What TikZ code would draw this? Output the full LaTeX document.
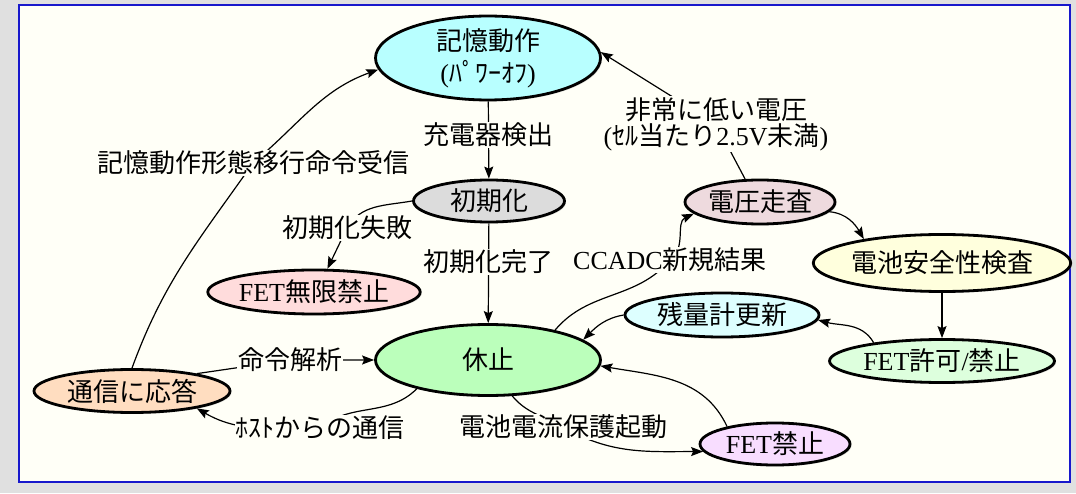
\documentclass[tikz,border=0pt]{standalone}
\usepackage{fontspec}
\setmainfont{Liberation Serif}
\newfontfamily\jp{Noto Sans CJK JP}
\usetikzlibrary{shapes.geometric,arrows.meta,shadows}
\definecolor{outerbg}{RGB}{224,224,224}
\definecolor{innerbg}{RGB}{255,255,247}
\definecolor{framecol}{RGB}{24,24,204}
\definecolor{cmem}{RGB}{184,255,255}
\definecolor{cinit}{RGB}{220,220,220}
\definecolor{cfetinf}{RGB}{255,220,220}
\definecolor{crest}{RGB}{187,255,187}
\definecolor{ccomm}{RGB}{255,221,192}
\definecolor{cvolt}{RGB}{238,218,222}
\definecolor{csafe}{RGB}{255,255,221}
\definecolor{cgauge}{RGB}{221,255,255}
\definecolor{cfetok}{RGB}{221,255,221}
\definecolor{cfetoff}{RGB}{248,221,255}
\newcommand{\lat}[1]{{\rmfamily #1}}
\begin{document}
\begin{tikzpicture}[x=1pt,y=1pt,
  state/.style={ellipse, draw=black, line width=2.8pt, inner sep=0pt,
    font=\jp\fontsize{26}{32}\selectfont, align=center,
    drop shadow={shadow xshift=1.5pt, shadow yshift=-1.5pt, opacity=0.25}},
  lab/.style={fill=innerbg, inner sep=1pt, font=\jp\fontsize{26}{26}\selectfont, align=center},
  arr/.style={line width=1.2pt, -{Stealth[length=12pt,width=9pt,inset=2pt]}}]
\useasboundingbox (0,0) rectangle (1076,493);
\fill[outerbg] (0,0) rectangle (1076,493);
\draw[framecol, line width=2pt, fill=innerbg] (19,11) rectangle (1070,488);

% states
\node[state, fill=cmem, minimum width=225pt, minimum height=73pt] (mem) at (488,435) {記憶動作\\\lat{(}ﾊﾟﾜｰｵﾌ\lat{)}};
\node[state, fill=cinit, minimum width=151pt, minimum height=42pt] (init) at (489,292) {初期化};
\node[state, fill=cfetinf, minimum width=195pt, minimum height=44pt] (fetinf) at (314,201) {\lat{FET}無限禁止};
\node[state, fill=crest, minimum width=225pt, minimum height=71pt] (rest) at (488,133) {休止};
\node[state, fill=ccomm, minimum width=196pt, minimum height=43pt] (comm) at (132,102) {通信に応答};
\node[state, fill=cvolt, minimum width=150pt, minimum height=44pt] (volt) at (760,291) {電圧走査};
\node[state, fill=csafe, minimum width=225pt, minimum height=57pt] (safe) at (942,230) {電池安全性検査};
\node[state, fill=cgauge, minimum width=194pt, minimum height=44pt] (gauge) at (722,178) {残量計更新};
\node[state, fill=cfetok, minimum width=225pt, minimum height=43pt] (fetok) at (942,132) {\lat{FET}許可\lat{/}禁止};
\node[state, fill=cfetoff, minimum width=150pt, minimum height=42pt] (fetoff) at (775,49) {\lat{FET}禁止};

% label positions
\coordinate (L1) at (488,358);
\coordinate (L2) at (488,231);
\coordinate (L3) at (347,265);
\coordinate (L4) at (253,330);
\coordinate (L5) at (290,133);
\coordinate (L6) at (320,65);
\coordinate (L7) at (670,233);
\coordinate (L8) at (716,369);
\coordinate (L9) at (563,66);

% connectors
\draw[arr] (mem) -- (init);
\draw[arr] (init) -- (rest);
\draw[arr] (init.west) to[out=190,in=60] (L3) -- (fetinf.60);
\draw[arr] (comm.north) to[out=70,in=235] (L4) to[out=40,in=200] (mem.186);
\draw[arr] (comm.15) -- (L5) -- (rest.west);
\draw[arr] (rest.202) to[out=225,in=40] (L6) to[out=180,in=-30] (comm.-15);
\draw[arr] (rest.24) to[out=50,in=230] (L7) to[out=35,in=205] (volt.190);
\draw[arr] (volt.123) -- (L8) -- (mem.3);
\draw[arr] (volt.-8) to[out=-5,in=120] (safe.163);
\draw[arr] (safe) -- (fetok);
\draw[arr] (fetok.165) to[out=120,in=-15] (gauge.-3);
\draw[arr] (gauge.west) to[out=190,in=45] (rest.12);
\draw[arr] (fetoff.160) to[out=115,in=-10] (rest.-3);
\draw[arr] (rest.-56) to[out=-50,in=150] (L9) to[out=-30,in=180] (fetoff.186);

% labels
\node[lab] (l1) at (L1) {充電器検出};
\node[lab] (l2) at (L2) {初期化完了};
\node[lab] (l3) at (L3) {初期化失敗};
\node[lab] (l4) at (L4) {記憶動作形態移行命令受信};
\node[lab] (l5) at (L5) {命令解析};
\node[lab] (l6) at (L6) {ﾎｽﾄからの通信};
\node[lab] (l7) at (L7) {\lat{CCADC}新規結果};
\node[lab] (l8) at (L8) {非常に低い電圧\\\lat{(}ｾﾙ当たり\lat{2.5V}未満\lat{)}};
\node[lab] (l9) at (L9) {電池電流保護起動};
\end{tikzpicture}
\end{document}
